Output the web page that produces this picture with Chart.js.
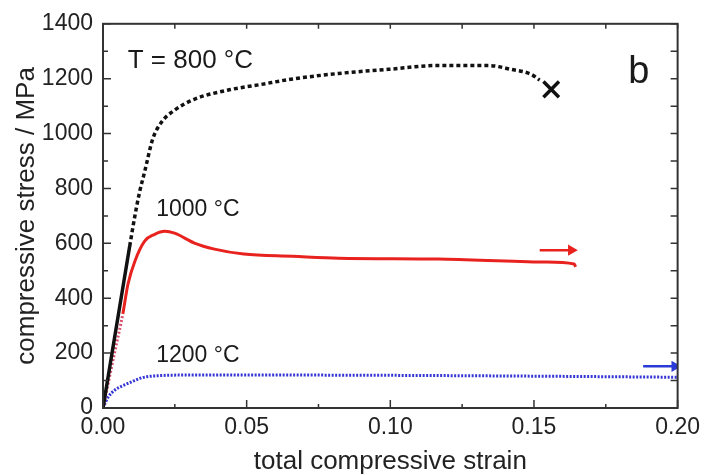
<!DOCTYPE html>
<html>
<head>
<meta charset="utf-8">
<script src="https://cdn.jsdelivr.net/npm/chart.js@4"></script>
<style>
  body { margin: 0; background: #fff; }
  #wrap { width: 706px; height: 475px; }
</style>
</head>
<body>
<div id="wrap"><canvas id="stressChart" width="706" height="475"></canvas></div>
<script>
const strain800 = [0, 0.0093, 0.0111, 0.0128, 0.0145, 0.0173, 0.0204, 0.0249, 0.0318, 0.0433, 0.055, 0.0654, 0.082, 0.0993, 0.1166, 0.134, 0.142, 0.149, 0.152];
const stress800 = [0, 590, 700, 790, 861, 980, 1042, 1085, 1125, 1158, 1179, 1198, 1219, 1234, 1248, 1248, 1234, 1216, 1195];

const strain1000 = [0, 0.0017, 0.0042, 0.0069, 0.0087, 0.0111, 0.0145, 0.018, 0.0215, 0.0249, 0.0318, 0.0388, 0.049, 0.066, 0.082, 0.1166, 0.1536, 0.164, 0.1645];
const stress1000 = [0, 85, 210, 343, 452, 535, 608, 633, 644, 637, 601, 579, 561, 553, 546, 543, 532, 525, 514];

const strain1200 = [0, 0.0017, 0.0042, 0.0075, 0.011, 0.0135, 0.018, 0.03, 0.06, 0.1, 0.15, 0.2];
const stress1200 = [0, 38, 66, 84, 100, 110, 117, 120, 120, 119, 116, 112];

const failStrain = [0.156];
const failStress = [1161];

const arrowRedStrain = [0.152, 0.163];
const arrowRedStress = [575, 575];
const arrowBlueStrain = [0.188, 0.199];
const arrowBlueStress = [152, 152];

const labelTexts = ['T = 800 °C', '1000 °C', '1200 °C', 'b'];
const labelStrain = [0.0304, 0.033, 0.033, 0.1865];
const labelStress = [1266, 723, 192, 1223];
const labelSizes = [26, 23, 23, 38];

const xTicks = [0, 0.05, 0.10, 0.15, 0.20];
const yTicks = [0, 200, 400, 600, 800, 1000, 1200, 1400];

const FONT = "'Liberation Sans', Arial, sans-serif";

const pts = (xs, ys) => xs.map((x, i) => ({x: x, y: ys[i]}));

const frameTicks = {
    id: 'frameTicks',
    afterDatasetsDraw(chart) {
        const c = chart.ctx;
        const area = chart.chartArea;
        const xs = chart.scales.x;
        const ys = chart.scales.y;
        c.save();
        c.strokeStyle = '#333';
        c.lineWidth = 2;
        c.strokeRect(area.left, area.top, area.right - area.left, area.bottom - area.top);
        c.lineWidth = 1.5;
        for (let i = 0; i <= 8; i++) {
            const px = xs.getPixelForValue(i * 0.025);
            const len = i % 2 === 0 ? 8 : 4;
            c.beginPath();
            c.moveTo(px, area.bottom); c.lineTo(px, area.bottom - len);
            c.moveTo(px, area.top); c.lineTo(px, area.top + 5);
            c.stroke();
        }
        for (let i = 0; i <= 14; i++) {
            const py = ys.getPixelForValue(i * 100);
            const len = i % 2 === 0 ? 8 : 5;
            c.beginPath();
            c.moveTo(area.left, py); c.lineTo(area.left + len, py);
            c.moveTo(area.right, py); c.lineTo(area.right - 7, py);
            c.stroke();
        }
        c.fillStyle = '#1a1a1a';
        c.textAlign = 'center';
        c.textBaseline = 'middle';
        labelTexts.forEach((t, i) => {
            c.font = labelSizes[i] + 'px ' + FONT;
            c.fillText(t, xs.getPixelForValue(labelStrain[i]), ys.getPixelForValue(labelStress[i]));
        });
        c.restore();
    }
};

const ctx = document.getElementById('stressChart').getContext('2d');
const chart = new Chart(ctx, {
    type: 'line',
    data: {
        datasets: [{
            label: '800 °C',
            data: pts(strain800, stress800),
            borderColor: '#111',
            borderWidth: 3.5,
            cubicInterpolationMode: 'monotone',
            segment: {
                borderDash: c => c.p0DataIndex === 0 ? [] : [4, 3]
            }
        }, {
            label: '1000 °C',
            data: pts(strain1000, stress1000),
            borderColor: '#e8221e',
            borderWidth: 3,
            cubicInterpolationMode: 'monotone',
            segment: {
                borderDash: c => c.p1DataIndex <= 3 ? [2, 2] : [],
                borderColor: c => c.p1DataIndex <= 3 ? '#d8506e' : '#e8221e'
            }
        }, {
            label: '1200 °C',
            data: pts(strain1200, stress1200),
            borderColor: '#3636d6',
            borderWidth: 3,
            borderDash: [2, 1.5],
            cubicInterpolationMode: 'monotone'
        }, {
            label: 'failure',
            data: pts(failStrain, failStress),
            showLine: false,
            pointStyle: 'crossRot',
            pointRadius: 11,
            borderColor: '#111',
            pointBorderWidth: 3.5
        }, {
            label: 'arrow 1000',
            data: pts(arrowRedStrain, arrowRedStress),
            borderColor: '#e8221e',
            backgroundColor: '#e8221e',
            borderWidth: 2.5,
            pointStyle: 'triangle',
            rotation: 90,
            pointRadius: [0, 4]
        }, {
            label: 'arrow 1200',
            data: pts(arrowBlueStrain, arrowBlueStress),
            borderColor: '#2a3ad6',
            backgroundColor: '#2a3ad6',
            borderWidth: 2.5,
            pointStyle: 'triangle',
            rotation: 90,
            pointRadius: [0, 4]
        }]
    },
    options: {
        responsive: false,
        animation: false,
        events: [],
        elements: { point: { radius: 0 } },
        layout: { padding: { left: 0, top: 21, right: 25, bottom: 0 } },
        plugins: { legend: { display: false }, tooltip: { enabled: false } },
        scales: {
            x: {
                type: 'linear',
                min: 0, max: 0.2,
                afterBuildTicks: s => { s.ticks = xTicks.map(v => ({value: v})); },
                afterFit: s => { s.height = 67; },
                grid: { display: false, drawTicks: false },
                border: { display: false },
                ticks: {
                    padding: 6,
                    color: '#222',
                    font: { family: FONT, size: 23 },
                    maxRotation: 0,
                    callback: v => v.toFixed(2)
                },
                title: {
                    display: true,
                    text: 'total compressive strain',
                    color: '#222',
                    font: { family: FONT, size: 26, lineHeight: 1 },
                    padding: { top: 0, bottom: 0 }
                }
            },
            y: {
                type: 'linear',
                min: 0, max: 1400,
                afterBuildTicks: s => { s.ticks = yTicks.map(v => ({value: v})); },
                afterFit: s => { s.width = 103; },
                grid: { display: false, drawTicks: false },
                border: { display: false },
                ticks: {
                    padding: 10,
                    color: '#222',
                    font: { family: FONT, size: 23 },
                    callback: v => String(v)
                },
                title: {
                    display: true,
                    text: 'compressive stress / MPa',
                    color: '#222',
                    font: { family: FONT, size: 26, lineHeight: 1 },
                    padding: { top: 14, bottom: 0 }
                }
            }
        }
    },
    plugins: [frameTicks]
});
</script>
</body>
</html>
